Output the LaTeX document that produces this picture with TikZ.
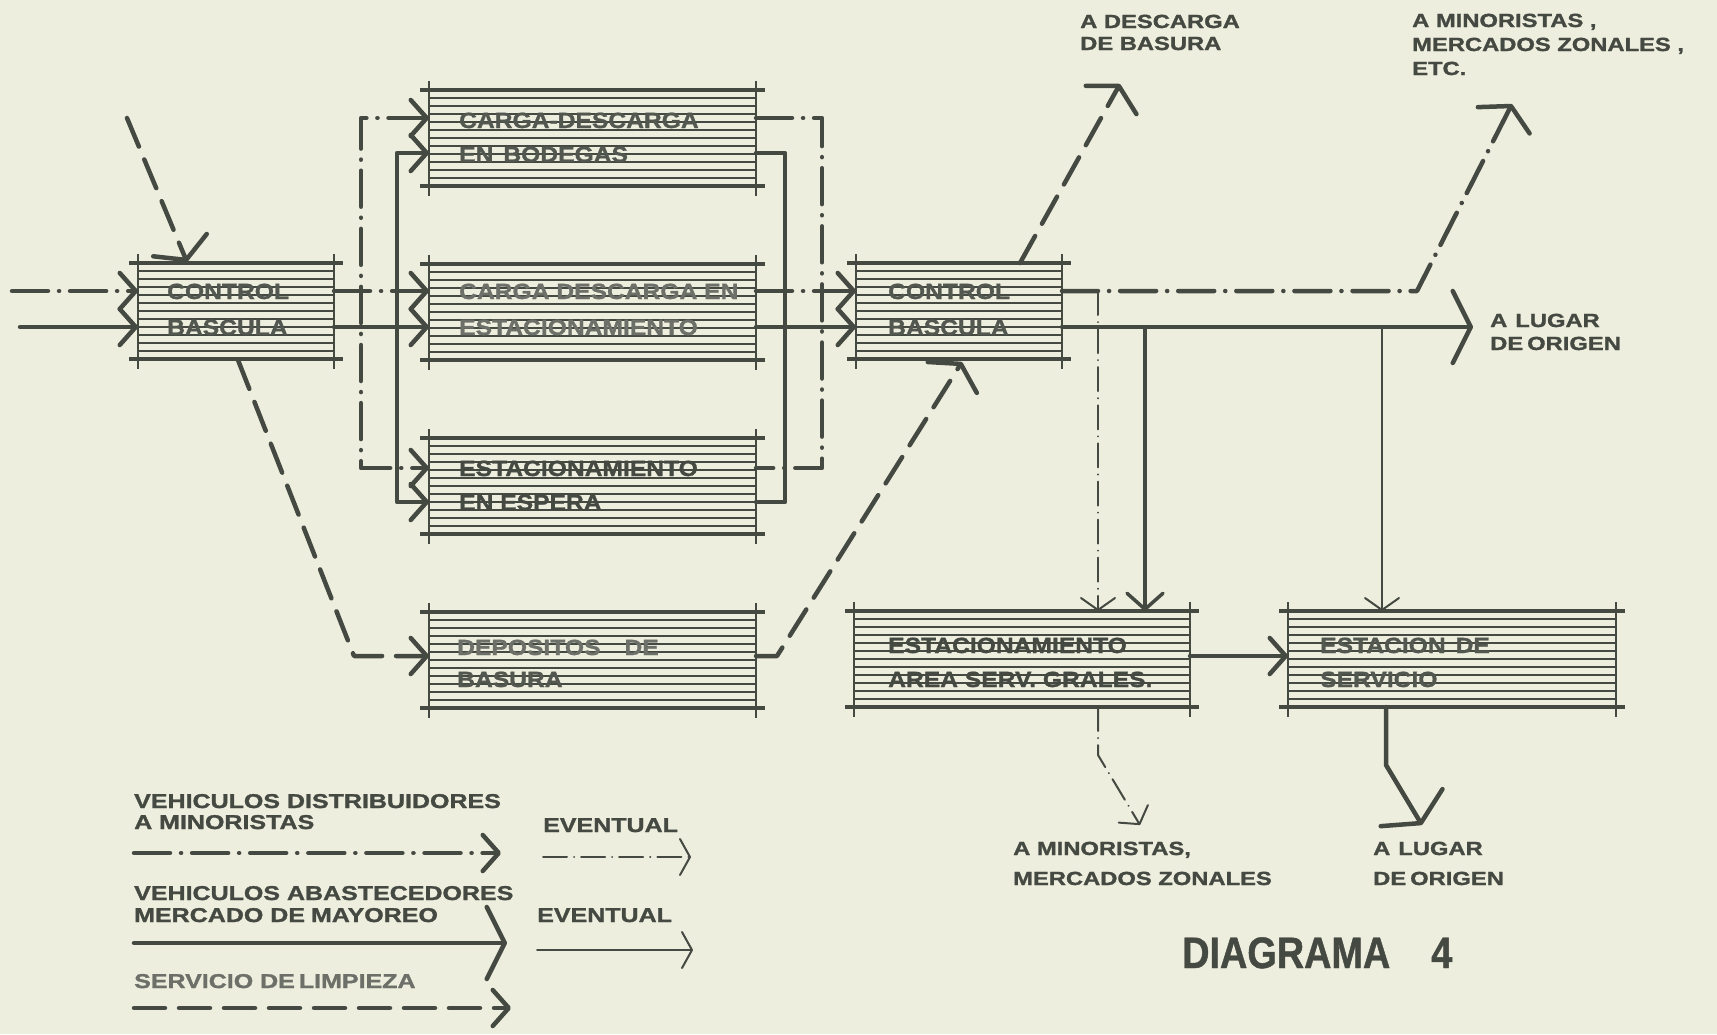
\documentclass[tikz,border=0pt]{standalone}
\usepackage{fontspec}
\usetikzlibrary{arrows.meta,calc}
\newfontfamily\boxfont[FakeStretch=1.12, FakeBold=1.2]{Liberation Sans Bold}
\newfontfamily\lblfont[FakeStretch=1.25, FakeBold=1.4]{Liberation Sans Bold}
\newfontfamily\diagfont[FakeStretch=0.86, FakeBold=1]{Liberation Sans Bold}
\definecolor{paper}{RGB}{238,238,222}
\definecolor{ink}{RGB}{68,73,66}
\definecolor{inkB}{RGB}{82,87,80}
\definecolor{inkC}{RGB}{108,112,104}
\tikzset{
  hatch/.style={draw=ink, line width=1.1pt},
  rim/.style={draw=ink, line width=3.2pt},
  side/.style={draw=ink, line width=2.6pt},
  boxn/.style={rectangle, inner sep=0pt, outer sep=0pt, minimum width=327pt, minimum height=96pt, anchor=north west},
  btxt/.style={anchor=base west, inner sep=0pt, font=\boxfont\fontsize{22}{26}\selectfont, text=inkB},
  ltxt/.style={anchor=base west, inner sep=0pt, font=\lblfont\fontsize{19}{22}\selectfont, text=ink},
  gtxt/.style={anchor=base west, inner sep=0pt, font=\lblfont\fontsize{20}{23}\selectfont, text=ink},
  solidln/.style={draw=ink, line width=4.5pt, line cap=round, line join=round},
  ddln/.style={draw=ink, line width=4.5pt, line cap=round, line join=round, dash pattern=on 36pt off 11pt on 0.1pt off 11pt},
  dashln/.style={draw=ink, line width=4.5pt, line cap=round, line join=round, dash pattern=on 31pt off 14pt},
  thinln/.style={draw=ink, line width=2pt, line cap=round},
  thindd/.style={draw=ink, line width=2pt, line cap=round, dash pattern=on 24pt off 7pt on 0.1pt off 7pt},
  tipA/.tip={Straight Barb[length=16pt,width=36pt,round]},
  tipW/.tip={Straight Barb[length=16pt,width=58pt,round]},
  tipBig/.tip={Straight Barb[length=18pt,width=72pt,round]},
  tipT/.tip={Straight Barb[length=12pt,width=34pt,round]},
  tipL/.tip={Straight Barb[length=10pt,width=36pt,round]},
}
\newcommand\boxdeco[1]{%
  \foreach \k in {1,...,11} {\draw[hatch] ($(#1.north west)+(0,8*\k)$) -- ($(#1.north east)+(0,8*\k)$);}
  \draw[rim] ($(#1.north west)+(-9,0)$) -- ($(#1.north east)+(9,0)$);
  \draw[rim] ($(#1.south west)+(-9,0)$) -- ($(#1.south east)+(9,0)$);
  \draw[side] ($(#1.north west)+(0,-9)$) -- ($(#1.south west)+(0,10)$);
  \draw[side] ($(#1.north east)+(0,-9)$) -- ($(#1.south east)+(0,10)$);
}
\begin{document}
\begin{tikzpicture}[x=1pt,y=-1pt]
\useasboundingbox (0,0) rectangle (1717,1034);
\fill[paper] (0,0) rectangle (1717,1034);

% boxes
\node[boxn, minimum width=196pt] (cb1) at (138,263) {};
\node[boxn] (bod) at (429,90) {};
\node[boxn] (est) at (429,264) {};
\node[boxn] (esp) at (429,438) {};
\node[boxn] (dep) at (429,612) {};
\node[boxn, minimum width=206pt] (cb2) at (856,263) {};
\node[boxn, minimum width=336pt] (esa) at (854,611) {};
\node[boxn, minimum width=328pt] (ser) at (1288,611) {};
\foreach \b in {cb1,bod,est,esp,dep,cb2,esa,ser} {\boxdeco{\b}}

% box texts
\node[btxt] (cb1t1) at (167,299) {CONTROL};
\node[btxt] (cb1t2) at (167,335) {BASCULA};
\node[btxt] (bodt1) at (459,128) {CARGA-DESCARGA};
\node[btxt] (bodt2) at (459,162) {EN\hspace{10pt}BODEGAS};
\node[btxt, text=inkC] (estt1) at (459,299) {CARGA DESCARGA EN};
\node[btxt, text=inkC] (estt2) at (459,335) {ESTACIONAMIENTO};
\node[btxt, text=ink] (espt1) at (459,476) {ESTACIONAMIENTO};
\node[btxt, text=ink] (espt2) at (459,510) {EN ESPERA};
\node[btxt, text=inkC] (dept1) at (457,655) {DEPOSITOS\hspace{24pt}DE};
\node[btxt] (dept2) at (457,687) {BASURA};
\node[btxt] (cb2t1) at (888,299) {CONTROL};
\node[btxt] (cb2t2) at (888,335) {BASCULA};
\node[btxt, text=ink] (esat1) at (888,653) {ESTACIONAMIENTO};
\node[btxt, text=ink] (esat2) at (888,687) {AREA SERV. GRALES.};
\node[btxt] (sert1) at (1320,653) {ESTACION\hspace{10pt}DE};
\node[btxt] (sert2) at (1320,687) {SERVICIO};

% row / trunk coordinates
\coordinate (rA) at (0,291); \coordinate (rB) at (0,327);
\coordinate (bA) at (0,118); \coordinate (bB) at (0,153);
\coordinate (eA) at (0,468); \coordinate (eB) at (0,502);
\coordinate (dR) at (0,656); \coordinate (sR) at (0,656);
\coordinate (lt1) at (361,0); \coordinate (lt2) at (397,0);
\coordinate (rt1) at (822,0); \coordinate (rt2) at (785,0);

% inputs
\coordinate (inA) at (12,291); \coordinate (inB) at (20,327);
\draw[ddln, -tipA] (inA) -- (cb1.west |- rA);
\draw[solidln, -tipA] (inB) -- (cb1.west |- rB);
\coordinate (inC) at (127,118); \coordinate (cb1top) at (187,262);
\draw[dashln, -tipW] (inC) -- (cb1top);

% left trunks
\draw[ddln, -tipA] (cb1.east |- rA) -- (est.west |- rA);
\draw[ddln, tipA-tipA] (bod.west |- bA) -- (lt1 |- bA) -- (lt1 |- eA) -- (esp.west |- eA);
\draw[solidln, -tipA] (cb1.east |- rB) -- (est.west |- rB);
\draw[solidln, tipA-tipA] (bod.west |- bB) -- (lt2 |- bB) -- (lt2 |- eB) -- (esp.west |- eB);

% right trunks
\draw[ddln, -tipA] (est.east |- rA) -- (cb2.west |- rA);
\draw[ddln] (bod.east |- bA) -- (rt1 |- bA) -- (rt1 |- eA) -- (esp.east |- eA);
\draw[solidln, -tipA] (est.east |- rB) -- (cb2.west |- rB);
\draw[solidln] (bod.east |- bB) -- (rt2 |- bB) -- (rt2 |- eB) -- (esp.east |- eB);

% garbage
\coordinate (cb1bot) at (238,360); \coordinate (c1) at (354,656);
\draw[dashln, -tipA] (cb1bot) -- (c1) -- (dep.west |- dR);
\coordinate (c2) at (777,656); \coordinate (cb2bot) at (962,362);
\draw[dashln, -tipW] (dep.east |- dR) -- (c2) -- (cb2bot);

% outputs of second control
\coordinate (cb2top) at (1020,263); \coordinate (outD) at (1120,84);
\draw[dashln, -tipW] (cb2top) -- (outD);
\coordinate (c3) at (1417,291); \coordinate (outM) at (1512,104);
\draw[ddln, -tipW] (cb2.east |- rA) -- (c3) -- (outM);
\coordinate (outL) at (1473,327);
\draw[solidln, -tipBig] (cb2.east |- rB) -- (outL);
\coordinate (v1) at (1098,0); \coordinate (v2) at (1145,0); \coordinate (v3) at (1382,0);
\draw[thindd, -tipT] (v1 |- rA) -- (v1 |- esa.north);
\draw[solidln, line width=3.5pt, -tipA] (v2 |- rB) -- (v2 |- esa.north);
\draw[thinln, -tipT] (v3 |- rB) -- (v3 |- ser.north);
\draw[solidln, -tipA] (esa.east |- sR) -- (ser.west |- sR);
\coordinate (c4) at (1098,755); \coordinate (outM2) at (1140,825);
\draw[thindd, -tipT] (v1 |- esa.south) -- (c4) -- (outM2);
\coordinate (c5) at (1386,765); \coordinate (outL2) at (1422,825);
\draw[solidln, -tipBig] (ser.south -| c5) -- (c5) -- (outL2);

% labels
\node[ltxt] (l1a) at (1080,28) {A DESCARGA};
\node[ltxt] (l1b) at (1080,50) {DE BASURA};
\node[ltxt] (l2a) at (1412,27) {A MINORISTAS ,};
\node[ltxt] (l2b) at (1412,51) {MERCADOS ZONALES ,};
\node[ltxt] (l2c) at (1412,75) {ETC.};
\node[ltxt] (l3a) at (1490,327) {A\hspace{8pt}LUGAR};
\node[ltxt] (l3b) at (1490,350) {DE\hspace{4pt}ORIGEN};
\node[ltxt] (l4a) at (1013,855) {A MINORISTAS,};
\node[ltxt] (l4b) at (1013,885) {MERCADOS ZONALES};
\node[ltxt] (l5a) at (1373,855) {A\hspace{8pt}LUGAR};
\node[ltxt] (l5b) at (1373,885) {DE\hspace{4pt}ORIGEN};

% legend
\node[gtxt] (g1a) at (134,808) {VEHICULOS DISTRIBUIDORES};
\node[gtxt] (g1b) at (134,829) {A MINORISTAS};
\node[gtxt] (g2) at (543,832) {EVENTUAL};
\node[gtxt] (g3a) at (134,900) {VEHICULOS ABASTECEDORES};
\node[gtxt] (g3b) at (134,922) {MERCADO DE\hspace{6pt}MAYOREO};
\node[gtxt] (g4) at (537,922) {EVENTUAL};
\node[gtxt, text=inkC] (g5) at (134,988) {SERVICIO DE\hspace{4pt}LIMPIEZA};
\coordinate (lg1a) at (134,853); \coordinate (lg1b) at (501,853);
\coordinate (lg2a) at (543,857); \coordinate (lg2b) at (691,857);
\coordinate (lg3a) at (134,943); \coordinate (lg3b) at (507,943);
\coordinate (lg4a) at (537,950); \coordinate (lg4b) at (693,950);
\coordinate (lg5a) at (134,1008); \coordinate (lg5b) at (511,1008);
\draw[ddln, -tipA] (lg1a) -- (lg1b);
\draw[thindd, -tipL] (lg2a) -- (lg2b);
\draw[solidln, -tipBig] (lg3a) -- (lg3b);
\draw[thinln, -tipL] (lg4a) -- (lg4b);
\draw[dashln, -tipA] (lg5a) -- (lg5b);

\node[anchor=base west, inner sep=0pt, font=\diagfont\fontsize{44}{48}\selectfont, text=ink] (dg) at (1182,968) {DIAGRAMA};
\node[anchor=base west, inner sep=0pt, font=\diagfont\fontsize{44}{48}\selectfont, text=ink] (dg4) at (1431,968) {4};
\end{tikzpicture}
\end{document}
